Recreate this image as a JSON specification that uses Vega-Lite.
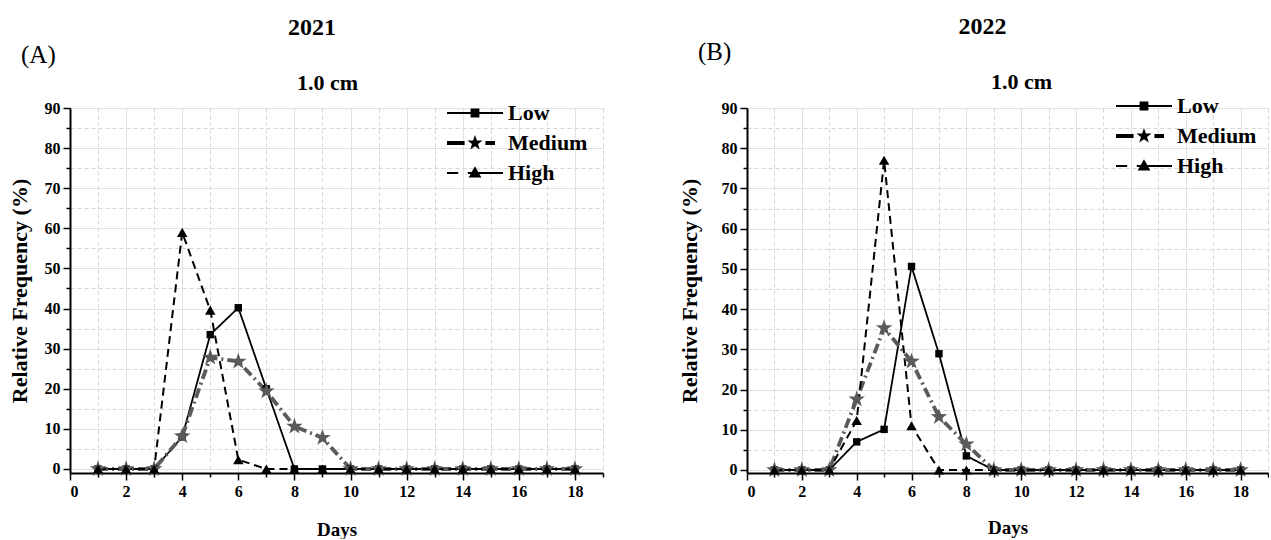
{
  "$schema": "https://vega.github.io/schema/vega-lite/v6.json",
  "padding": {"left": 8, "top": 15, "right": 0, "bottom": 0},
  "autosize": {"type": "pad"},
  "spacing": 74,
  "datasets": {
    "a": [
      {"Day": 1, "Low": 0, "Medium": 0, "High": 0},
      {"Day": 2, "Low": 0, "Medium": 0, "High": 0},
      {"Day": 3, "Low": 0, "Medium": 0, "High": 0},
      {"Day": 4, "Low": 8, "Medium": 8.2, "High": 59},
      {"Day": 5, "Low": 33.5, "Medium": 27.8, "High": 39.6},
      {"Day": 6, "Low": 40.2, "Medium": 26.8, "High": 2.3},
      {"Day": 7, "Low": 20, "Medium": 19.4, "High": 0},
      {"Day": 8, "Low": 0, "Medium": 10.6, "High": 0},
      {"Day": 9, "Low": 0, "Medium": 7.8, "High": 0},
      {"Day": 10, "Low": 0, "Medium": 0, "High": 0},
      {"Day": 11, "Low": 0, "Medium": 0, "High": 0},
      {"Day": 12, "Low": 0, "Medium": 0, "High": 0},
      {"Day": 13, "Low": 0, "Medium": 0, "High": 0},
      {"Day": 14, "Low": 0, "Medium": 0, "High": 0},
      {"Day": 15, "Low": 0, "Medium": 0, "High": 0},
      {"Day": 16, "Low": 0, "Medium": 0, "High": 0},
      {"Day": 17, "Low": 0, "Medium": 0, "High": 0},
      {"Day": 18, "Low": 0, "Medium": 0, "High": 0}
    ],
    "b": [
      {"Day": 1, "Low": 0, "Medium": 0, "High": 0},
      {"Day": 2, "Low": 0, "Medium": 0, "High": 0},
      {"Day": 3, "Low": 0, "Medium": 0, "High": 0},
      {"Day": 4, "Low": 7, "Medium": 17.6, "High": 12.3},
      {"Day": 5, "Low": 10.1, "Medium": 35.3, "High": 77},
      {"Day": 6, "Low": 50.6, "Medium": 27, "High": 11},
      {"Day": 7, "Low": 28.9, "Medium": 13.2, "High": 0},
      {"Day": 8, "Low": 3.5, "Medium": 6.4, "High": 0},
      {"Day": 9, "Low": 0, "Medium": 0, "High": 0},
      {"Day": 10, "Low": 0, "Medium": 0, "High": 0},
      {"Day": 11, "Low": 0, "Medium": 0, "High": 0},
      {"Day": 12, "Low": 0, "Medium": 0, "High": 0},
      {"Day": 13, "Low": 0, "Medium": 0, "High": 0},
      {"Day": 14, "Low": 0, "Medium": 0, "High": 0},
      {"Day": 15, "Low": 0, "Medium": 0, "High": 0},
      {"Day": 16, "Low": 0, "Medium": 0, "High": 0},
      {"Day": 17, "Low": 0, "Medium": 0, "High": 0},
      {"Day": 18, "Low": 0, "Medium": 0, "High": 0}
    ]
  },
  "hconcat": [
    {
      "title": {"text": "2021", "font": "Liberation Serif", "fontSize": 24, "fontWeight": "bold", "color": "black", "anchor": "middle", "offset": 3.5, "dx": 6},
      "vconcat": [
        {
          "title": {"text": "(A)", "font": "Liberation Serif", "fontSize": 25, "fontWeight": "normal", "color": "black", "anchor": "start", "offset": 3.5, "dx": 13},
          "vconcat": [
            {
              "title": {"text": "1.0 cm", "font": "Liberation Serif", "fontSize": 22, "fontWeight": "bold", "color": "black", "anchor": "middle", "offset": 5.5, "dx": -9},
              "width": 533,
              "height": 365,
              "data": {"name": "a"},
              "transform": [{"fold": ["Low", "Medium", "High"], "as": ["Level", "Freq"]}],
              "encoding": {
                "x": {
                  "field": "Day", "type": "quantitative", "title": "Days",
                  "scale": {"domain": [0, 19], "nice": false, "zero": false},
                  "axis": {
                    "values": [0, 1, 2, 3, 4, 5, 6, 7, 8, 9, 10, 11, 12, 13, 14, 15, 16, 17, 18, 19],
                    "labelExpr": "datum.value % 2 === 0 && datum.value <= 18 ? datum.label : ''",
                    "labelOverlap": false,
                    "tickSize": {"condition": {"test": "datum.value % 2 === 0", "value": 7}, "value": 4},
                    "gridDash": {"condition": {"test": "datum.value % 2 === 0", "value": [1, 0]}, "value": [4, 3]},
                    "gridColor": "#d6d6d6",
                    "domainColor": "black", "domainWidth": 2,
                    "tickColor": "black", "tickWidth": 1.5,
                    "labelFont": "Liberation Serif", "labelFontWeight": "bold", "labelFontSize": 16, "labelColor": "black", "labelPadding": 3,
                    "titleFont": "Liberation Serif", "titleFontWeight": "bold", "titleFontSize": 19, "titleColor": "black", "titlePadding": 21
                  }
                },
                "y": {
                  "field": "Freq", "type": "quantitative", "title": "Relative Frequency (%)",
                  "scale": {"domain": [-1, 90], "nice": false, "zero": false},
                  "axis": {
                    "values": [0, 5, 10, 15, 20, 25, 30, 35, 40, 45, 50, 55, 60, 65, 70, 75, 80, 85, 90],
                    "labelExpr": "datum.value % 10 === 0 ? datum.label : ''",
                    "labelOverlap": false,
                    "tickSize": {"condition": {"test": "datum.value % 10 === 0", "value": 7}, "value": 4},
                    "gridDash": {"condition": {"test": "datum.value % 10 === 0", "value": [1, 0]}, "value": [4, 3]},
                    "gridColor": "#d6d6d6",
                    "domainColor": "black", "domainWidth": 2,
                    "tickColor": "black", "tickWidth": 1.5,
                    "labelFont": "Liberation Serif", "labelFontWeight": "bold", "labelFontSize": 16, "labelColor": "black", "labelPadding": 3,
                    "titleFont": "Liberation Serif", "titleFontWeight": "bold", "titleFontSize": 22, "titleColor": "black", "titlePadding": 13
                  }
                }
              },
              "layer": [
                {
                  "mark": {"type": "line"},
                  "encoding": {
                    "color": {"field": "Level", "type": "nominal", "scale": {"domain": ["Low", "Medium", "High"], "range": ["black", "#5a5a5a", "black"]}, "legend": null},
                    "strokeDash": {"field": "Level", "type": "nominal", "scale": {"domain": ["Low", "Medium", "High"], "range": [[1, 0], [10, 4, 2, 4], [8, 5]]}, "legend": null},
                    "strokeWidth": {"field": "Level", "type": "nominal", "scale": {"type": "ordinal", "domain": ["Low", "Medium", "High"], "range": [1.8, 3.8, 2]}, "legend": null}
                  }
                },
                {
                  "mark": {"type": "point", "filled": true, "opacity": 1},
                  "encoding": {
                    "color": {"field": "Level", "type": "nominal", "scale": {"domain": ["Low", "Medium", "High"], "range": ["black", "#5a5a5a", "black"]}, "legend": null},
                    "shape": {"field": "Level", "type": "nominal", "scale": {"domain": ["Low", "Medium", "High"], "range": ["square", "M0,-1L0.235,-0.324L0.951,-0.309L0.38,0.124L0.588,0.809L0,0.4L-0.588,0.809L-0.38,0.124L-0.951,-0.309L-0.235,-0.324Z", "triangle-up"]}, "legend": null},
                    "size": {"field": "Level", "type": "nominal", "scale": {"type": "ordinal", "domain": ["Low", "Medium", "High"], "range": [55, 300, 110]}, "legend": null}
                  }
                },
                {
                  "mark": {"type": "point", "filled": true, "opacity": 0, "size": 64, "color": "black"},
                  "encoding": {
                    "shape": {
                      "field": "Level", "type": "nominal",
                      "scale": {"domain": ["Low", "Medium", "High"], "range": ["M-7,-0.25H7V0.25H-7ZM-1.1,-1.1H1.1V1.1H-1.1Z", "M-7,-0.5H-2.6V0.5H-7ZM2.6,-0.5H5V0.5H2.6ZM0,-2L0.47,-0.65L1.9,-0.62L0.76,0.25L1.18,1.62L0,0.8L-1.18,1.62L-0.76,0.25L-1.9,-0.62L-0.47,-0.65Z", "M-7,-0.25H-4.2V0.25H-7ZM-1.8,-0.25H7V0.25H-1.8ZM0,-1.7L1.6,1.1L-1.6,1.1Z"]},
                      "legend": {
                        "orient": "none", "legendX": 394, "legendY": -6, "title": null,
                        "labelFont": "Liberation Serif", "labelFontSize": 22, "labelFontWeight": "bold", "labelColor": "black",
                        "symbolSize": 64, "labelOffset": 22, "rowPadding": 8, "symbolOpacity": 1,
                        "symbolFillColor": "black", "symbolStrokeColor": "black", "symbolStrokeWidth": 0
                      }
                    }
                  }
                }
              ],
              "resolve": {"scale": {"shape": "independent", "size": "independent"}, "legend": {"shape": "independent"}}
            }
          ]
        }
      ]
    },
    {
      "title": {"text": "2022", "font": "Liberation Serif", "fontSize": 24, "fontWeight": "bold", "color": "black", "anchor": "middle", "offset": 1, "dx": 9},
      "vconcat": [
        {
          "title": {"text": "(B)", "font": "Liberation Serif", "fontSize": 25, "fontWeight": "normal", "color": "black", "anchor": "start", "offset": 5.5, "dx": 20},
          "vconcat": [
            {
              "title": {"text": "1.0 cm", "font": "Liberation Serif", "fontSize": 22, "fontWeight": "bold", "color": "black", "anchor": "middle", "offset": 1.5, "dx": 14},
              "width": 521,
              "height": 365,
              "data": {"name": "b"},
              "transform": [{"fold": ["Low", "Medium", "High"], "as": ["Level", "Freq"]}],
              "encoding": {
                "x": {
                  "field": "Day", "type": "quantitative", "title": "Days",
                  "scale": {"domain": [0, 19], "nice": false, "zero": false},
                  "axis": {
                    "values": [0, 1, 2, 3, 4, 5, 6, 7, 8, 9, 10, 11, 12, 13, 14, 15, 16, 17, 18, 19],
                    "labelExpr": "datum.value % 2 === 0 && datum.value <= 18 ? datum.label : ''",
                    "labelOverlap": false,
                    "tickSize": {"condition": {"test": "datum.value % 2 === 0", "value": 7}, "value": 4},
                    "gridDash": {"condition": {"test": "datum.value % 2 === 0", "value": [1, 0]}, "value": [4, 3]},
                    "gridColor": "#d6d6d6",
                    "domainColor": "black", "domainWidth": 2,
                    "tickColor": "black", "tickWidth": 1.5,
                    "labelFont": "Liberation Serif", "labelFontWeight": "bold", "labelFontSize": 16, "labelColor": "black", "labelPadding": 3,
                    "titleFont": "Liberation Serif", "titleFontWeight": "bold", "titleFontSize": 19, "titleColor": "black", "titlePadding": 19
                  }
                },
                "y": {
                  "field": "Freq", "type": "quantitative", "title": "Relative Frequency (%)",
                  "scale": {"domain": [-0.75, 90], "nice": false, "zero": false},
                  "axis": {
                    "values": [0, 5, 10, 15, 20, 25, 30, 35, 40, 45, 50, 55, 60, 65, 70, 75, 80, 85, 90],
                    "labelExpr": "datum.value % 10 === 0 ? datum.label : ''",
                    "labelOverlap": false,
                    "tickSize": {"condition": {"test": "datum.value % 10 === 0", "value": 7}, "value": 4},
                    "gridDash": {"condition": {"test": "datum.value % 10 === 0", "value": [1, 0]}, "value": [4, 3]},
                    "gridColor": "#d6d6d6",
                    "domainColor": "black", "domainWidth": 2,
                    "tickColor": "black", "tickWidth": 1.5,
                    "labelFont": "Liberation Serif", "labelFontWeight": "bold", "labelFontSize": 16, "labelColor": "black", "labelPadding": 3,
                    "titleFont": "Liberation Serif", "titleFontWeight": "bold", "titleFontSize": 22, "titleColor": "black", "titlePadding": 20
                  }
                }
              },
              "layer": [
                {
                  "mark": {"type": "line"},
                  "encoding": {
                    "color": {"field": "Level", "type": "nominal", "scale": {"domain": ["Low", "Medium", "High"], "range": ["black", "#5a5a5a", "black"]}, "legend": null},
                    "strokeDash": {"field": "Level", "type": "nominal", "scale": {"domain": ["Low", "Medium", "High"], "range": [[1, 0], [10, 4, 2, 4], [8, 5]]}, "legend": null},
                    "strokeWidth": {"field": "Level", "type": "nominal", "scale": {"type": "ordinal", "domain": ["Low", "Medium", "High"], "range": [1.8, 3.8, 2]}, "legend": null}
                  }
                },
                {
                  "mark": {"type": "point", "filled": true, "opacity": 1},
                  "encoding": {
                    "color": {"field": "Level", "type": "nominal", "scale": {"domain": ["Low", "Medium", "High"], "range": ["black", "#5a5a5a", "black"]}, "legend": null},
                    "shape": {"field": "Level", "type": "nominal", "scale": {"domain": ["Low", "Medium", "High"], "range": ["square", "M0,-1L0.235,-0.324L0.951,-0.309L0.38,0.124L0.588,0.809L0,0.4L-0.588,0.809L-0.38,0.124L-0.951,-0.309L-0.235,-0.324Z", "triangle-up"]}, "legend": null},
                    "size": {"field": "Level", "type": "nominal", "scale": {"type": "ordinal", "domain": ["Low", "Medium", "High"], "range": [55, 300, 110]}, "legend": null}
                  }
                },
                {
                  "mark": {"type": "point", "filled": true, "opacity": 0, "size": 64, "color": "black"},
                  "encoding": {
                    "shape": {
                      "field": "Level", "type": "nominal",
                      "scale": {"domain": ["Low", "Medium", "High"], "range": ["M-7,-0.25H7V0.25H-7ZM-1.1,-1.1H1.1V1.1H-1.1Z", "M-7,-0.5H-2.6V0.5H-7ZM2.6,-0.5H5V0.5H2.6ZM0,-2L0.47,-0.65L1.9,-0.62L0.76,0.25L1.18,1.62L0,0.8L-1.18,1.62L-0.76,0.25L-1.9,-0.62L-0.47,-0.65Z", "M-7,-0.25H-4.2V0.25H-7ZM-1.8,-0.25H7V0.25H-1.8ZM0,-1.7L1.6,1.1L-1.6,1.1Z"]},
                      "legend": {
                        "orient": "none", "legendX": 386, "legendY": -13, "title": null,
                        "labelFont": "Liberation Serif", "labelFontSize": 22, "labelFontWeight": "bold", "labelColor": "black",
                        "symbolSize": 64, "labelOffset": 22, "rowPadding": 8, "symbolOpacity": 1,
                        "symbolFillColor": "black", "symbolStrokeColor": "black", "symbolStrokeWidth": 0
                      }
                    }
                  }
                }
              ],
              "resolve": {"scale": {"shape": "independent", "size": "independent"}, "legend": {"shape": "independent"}}
            }
          ]
        }
      ]
    }
  ],
  "config": {
    "view": {"stroke": null},
    "font": "Liberation Serif",
    "background": "white"
  }
}
